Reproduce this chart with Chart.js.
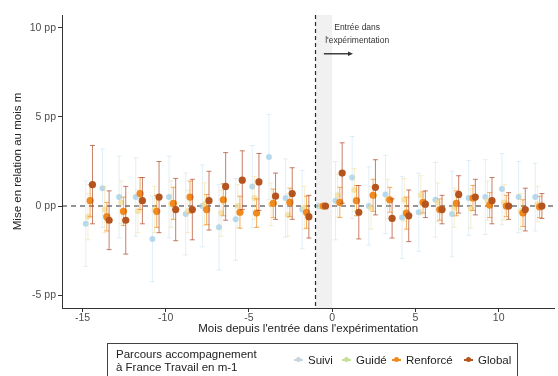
<!DOCTYPE html>
<html>
<head>
<meta charset="utf-8">
<script src="https://cdn.jsdelivr.net/npm/chart.js@4.4.1/dist/chart.umd.min.js"></script>
<style>
body { margin: 0; background: #fff; }
#wrap { position: relative; width: 558px; height: 376px; overflow: hidden; }
#legend { position: absolute; left: 107px; top: 343px; width: 409px; height: 40px; border: 1px solid #444;
  font-family: 'Liberation Sans', Arial, sans-serif; color: #222; }
#legend .ttl { position: absolute; left: 8px; top: 4px; font-size: 11.5px; line-height: 13px; white-space: nowrap; }
#legend .item { position: absolute; top: 9px; font-size: 11.5px; line-height: 14px; white-space: nowrap; }
#legend .key { position: absolute; top: 6px; width: 9px; height: 2px; }
#legend .key i { position: absolute; left: 2px; top: -2px; width: 5px; height: 5px; border-radius: 50%; }
</style>
</head>
<body>
<div id="wrap">
  <canvas id="chart" width="558" height="376"></canvas>
  <div id="legend"></div>
</div>
<script>
// mois depuis l'entrée (m-1 = mois de référence)
const months = [-15, -14, -13, -12, -11, -10, -9, -8, -7, -6, -5, -4, -3, -2, -1,
  0, 1, 2, 3, 4, 5, 6, 7, 8, 9, 10, 11, 12];

const suivi = [-1.0, 1.0, 0.5, 0.5, -1.85, 0.5, -0.45, 0.0, -1.2, -0.75, 1.1, 2.75, 0.45, -0.2, 0,
  0.3, 1.6, 0.0, 0.65, -0.65, -0.35, 0.35, -0.45, 0.45, 0.5, 0.95, 0.5, 0.5];
const suiviCi = [2.4, 2.2, 2.3, 2.2, 2.4, 2.3, 2.3, 2.3, 2.4, 2.3, 2.3, 2.4, 2.2, 2.2, 0,
  2.2, 2.3, 2.2, 2.2, 2.3, 2.2, 2.1, 2.4, 2.1, 2.1, 2.0, 2.0, 1.9];

const guide = [-0.6, -0.2, 0.2, -0.3, -0.2, 0.1, -0.3, 0.1, -0.4, 0.0, 0.45, 0.1, -0.5, -0.1, 0,
  0.6, 0.9, -0.1, 0.4, 0.35, 0.6, 0.2, -0.1, -0.15, 0.3, 0.2, -0.3, 0.1];
const guideCi = [1.3, 1.3, 1.2, 1.2, 1.3, 1.3, 1.2, 1.2, 1.3, 1.2, 1.2, 1.2, 1.2, 1.2, 0,
  1.2, 1.2, 1.2, 1.1, 1.2, 1.1, 1.1, 1.1, 1.1, 1.1, 1.0, 1.0, 1.0];

const renforce = [0.3, -0.6, -0.3, 0.7, -0.3, 0.15, 0.5, -0.2, 0.35, -0.35, -0.4, 0.15, 0.2, -0.35, 0,
  0.2, 0.3, 0.6, 0.35, -0.4, 0.2, -0.2, 0.15, 0.45, 0.05, 0.0, -0.4, -0.05];
const renforceCi = [0.9, 0.8, 0.8, 0.9, 0.9, 0.9, 0.9, 0.85, 0.9, 0.9, 0.8, 0.8, 0.8, 0.9, 0,
  0.85, 0.85, 0.9, 0.7, 0.9, 0.6, 0.6, 0.7, 0.7, 0.7, 0.6, 0.75, 0.6];

const global = [1.2, -0.8, -0.8, 0.3, 0.5, -0.2, -0.2, 0.3, 1.1, 1.45, 1.35, 0.55, 0.7, -0.6, 0,
  1.85, -0.35, 1.05, -0.7, -0.55, 0.1, -0.2, 0.65, 0.5, 0.3, 0.0, -0.2, 0.0];
const globalCi = [2.2, 1.65, 1.9, 1.3, 2.0, 1.75, 1.7, 1.65, 1.9, 1.65, 1.6, 1.3, 1.45, 1.2, 0,
  1.7, 1.5, 1.55, 1.1, 1.45, 0.75, 0.8, 1.05, 1.0, 1.3, 0.75, 1.2, 0.7];

const xTicks = [-15, -10, -5, 0, 5, 10];
const yTicks = [-5, 0, 5, 10];

const FONT = "'Liberation Sans', Arial, sans-serif";

const series = [
  { label: 'Suivi', values: suivi, ci: suiviCi, shift: 0.2, color: 'rgba(160,205,232,0.75)', bar: 'rgba(170,210,235,0.35)', r: 3, key: '#c9d6de' },
  { label: 'Guidé', values: guide, ci: guideCi, shift: 0.33, color: 'rgba(242,220,150,0.75)', bar: 'rgba(240,215,140,0.45)', r: 3, key: '#c6df9c' },
  { label: 'Renforcé', values: renforce, ci: renforceCi, shift: 0.46, color: '#f08a1e', bar: 'rgba(240,138,30,0.7)', r: 3.6, key: '#f08a1e' },
  { label: 'Global', values: global, ci: globalCi, shift: 0.6, color: '#b5541f', bar: 'rgba(175,72,40,0.7)', r: 3.6, key: '#b5541f' }
];

const datasets = series.map((s, k) => ({
  label: s.label,
  data: months.map((m, i) => ({ x: m + s.shift, y: s.values[i] })),
  ci: s.ci,
  barColor: s.bar,
  backgroundColor: s.color,
  borderWidth: 0,
  pointRadius: s.r,
  pointHoverRadius: s.r,
  order: 4 - k
}));

const errorBars = {
  id: 'errorBars',
  beforeDatasetDraw(chart, args) {
    const ds = chart.data.datasets[args.index];
    const x = chart.scales.x, y = chart.scales.y, ctx = chart.ctx;
    ctx.save();
    ctx.strokeStyle = ds.barColor;
    ctx.lineWidth = 1;
    ds.data.forEach((p, i) => {
      const ci = ds.ci[i];
      if (!ci) return;
      const px = x.getPixelForValue(p.x);
      const top = y.getPixelForValue(p.y + ci), bot = y.getPixelForValue(p.y - ci);
      ctx.beginPath();
      ctx.moveTo(px, top); ctx.lineTo(px, bot);
      ctx.moveTo(px - 2.5, top); ctx.lineTo(px + 2.5, top);
      ctx.moveTo(px - 2.5, bot); ctx.lineTo(px + 2.5, bot);
      ctx.stroke();
    });
    ctx.restore();
  }
};

const refMarks = {
  id: 'refMarks',
  beforeDatasetsDraw(chart) {
    const { ctx, chartArea: a, scales: { x, y } } = chart;
    ctx.save();
    ctx.fillStyle = 'rgba(215,215,215,0.35)';
    const x0 = x.getPixelForValue(-1), x1 = x.getPixelForValue(0);
    ctx.fillRect(x0, a.top, x1 - x0, a.bottom - a.top);
    ctx.strokeStyle = '#2b2b2b';
    ctx.lineWidth = 1.2;
    ctx.setLineDash([4, 3]);
    ctx.beginPath();
    ctx.moveTo(x0, a.top); ctx.lineTo(x0, a.bottom);
    ctx.stroke();
    ctx.setLineDash([5, 4]);
    const y0 = y.getPixelForValue(0);
    ctx.beginPath();
    ctx.moveTo(a.left, y0); ctx.lineTo(a.right, y0);
    ctx.stroke();
    ctx.restore();
  },
  afterDatasetsDraw(chart) {
    const { ctx, scales: { x, y } } = chart;
    ctx.save();
    ctx.fillStyle = '#333';
    ctx.font = '8.5px ' + FONT;
    ctx.textAlign = 'center';
    ctx.textBaseline = 'middle';
    ctx.fillText('Entrée dans', x.getPixelForValue(1.5), y.getPixelForValue(10.0));
    ctx.fillText("l'expérimentation", x.getPixelForValue(1.5), y.getPixelForValue(9.3));
    const ay = y.getPixelForValue(8.55);
    const ax0 = x.getPixelForValue(-0.5), ax1 = x.getPixelForValue(1.25);
    ctx.strokeStyle = '#111';
    ctx.lineWidth = 1.2;
    ctx.beginPath();
    ctx.moveTo(ax0, ay); ctx.lineTo(ax1 - 2, ay);
    ctx.stroke();
    ctx.beginPath();
    ctx.moveTo(ax1, ay); ctx.lineTo(ax1 - 5, ay - 2.2); ctx.lineTo(ax1 - 5, ay + 2.2);
    ctx.closePath();
    ctx.fill();
    ctx.restore();
  }
};

const axisStyle = {
  border: { display: true, color: '#333', width: 1 },
  grid: { display: true, drawOnChartArea: false, drawTicks: true, tickLength: 4, color: '#333' }
};

new Chart(document.getElementById('chart'), {
  type: 'scatter',
  data: { datasets },
  options: {
    responsive: false,
    animation: false,
    layout: { padding: { top: 15, right: 2, bottom: 36, left: 0 } },
    plugins: { legend: { display: false }, tooltip: { enabled: false } },
    scales: {
      x: {
        type: 'linear', min: -16.23, max: 13.35,
        ...axisStyle,
        afterBuildTicks: s => { s.ticks = xTicks.map(v => ({ value: v })); },
        afterFit: s => { s.height = 32; },
        ticks: { color: '#4d4d4d', font: { family: FONT, size: 10.5 }, padding: 0, maxRotation: 0 },
        title: { display: true, text: "Mois depuis l'entrée dans l'expérimentation", color: '#222',
          font: { family: FONT, size: 11.5 }, padding: { top: 0, bottom: 4 } }
      },
      y: {
        type: 'linear', min: -5.73, max: 10.73,
        ...axisStyle,
        afterBuildTicks: s => { s.ticks = yTicks.map(v => ({ value: v })); },
        afterFit: s => { s.width = 62; },
        ticks: { color: '#4d4d4d', font: { family: FONT, size: 10.5 }, padding: 2, callback: v => v + ' pp' },
        title: { display: true, text: 'Mise en relation au mois m', color: '#222',
          font: { family: FONT, size: 11.5 }, padding: { top: 11, bottom: 0 } }
      }
    }
  },
  plugins: [errorBars, refMarks]
});

// légende
const legend = document.getElementById('legend');
legend.innerHTML = '<div class="ttl">Parcours accompagnement<br>à France Travail en m-1</div>';
const keyX = [186, 234, 284, 356];
series.forEach((s, k) => {
  const it = document.createElement('div');
  it.className = 'item';
  it.style.left = keyX[k] + 'px';
  it.innerHTML = '<span class="key" style="left:0;background:' + s.key + '"><i style="background:' + s.key + '"></i></span>' +
    '<span style="margin-left:14px">' + s.label + '</span>';
  legend.appendChild(it);
});
</script>
</body>
</html>
